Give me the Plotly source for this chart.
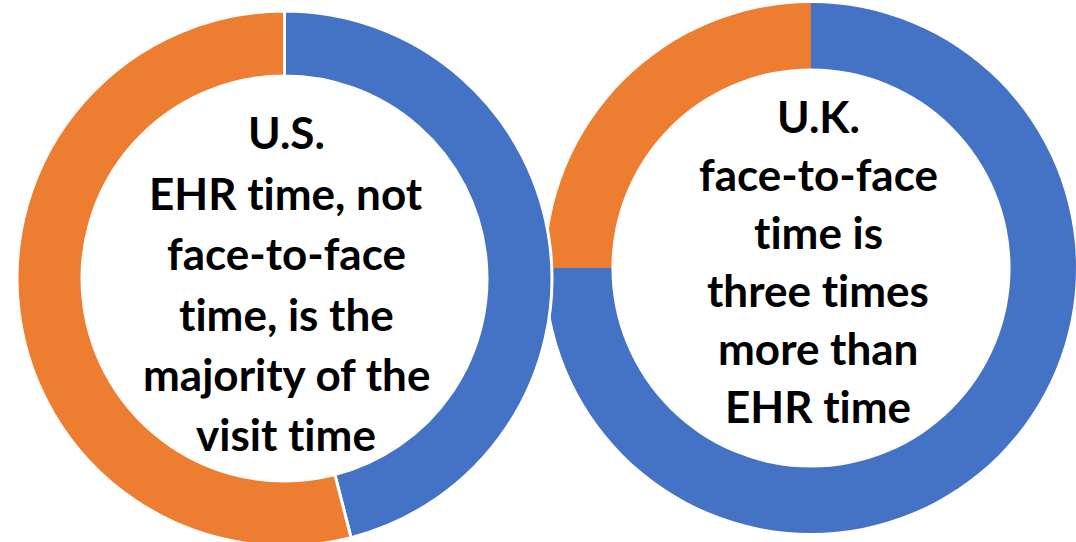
import plotly.graph_objects as go

# Data
labels = ["Face-to-face time", "EHR time"]
us_values = [46, 54]
uk_values = [75, 25]
colors = ["#4472C4", "#ED7D31"]

us_text = ["U.S.", "EHR time, not", "face-to-face", "time, is the", "majority of the", "visit time"]
uk_text = ["U.K.", "face-to-face", "time is", "three times", "more than", "EHR time"]

W, H = 1076, 552
FONT = "Lato"
FS = 44

fig = go.Figure()
# U.K. first so the U.S. ring (with its white outline) sits on top where they touch
fig.add_trace(go.Pie(labels=labels, values=uk_values, hole=0.753, sort=False,
                     direction="clockwise", rotation=0, textinfo="none",
                     marker=dict(colors=colors, line=dict(color="white", width=0)),
                     domain=dict(x=[546 / W, 1076 / W], y=[19 / H, 549 / H])))
fig.add_trace(go.Pie(labels=labels, values=us_values, hole=0.757, sort=False,
                     direction="clockwise", rotation=0, textinfo="none",
                     marker=dict(colors=colors, line=dict(color="white", width=3)),
                     domain=dict(x=[17 / W, 552 / W], y=[6 / H, 541 / H])))


def add_lines(lines, cx, base0, step):
    for i, t in enumerate(lines):
        ypx = base0 + i * step - 0.4 * FS
        t = t.replace("ti", "t\u200ci")  # avoid the Lato "ti" ligature
        fig.add_annotation(text=f"<b>{t}</b>", x=cx / W, y=1 - ypx / H, xref="paper", yref="paper",
                           xanchor="center", yanchor="middle", showarrow=False,
                           font=dict(family=FONT, size=FS, color="black"))


add_lines(us_text, 286, 150, 60.4)
add_lines(uk_text, 818, 134, 58)

fig.update_layout(width=W, height=H, margin=dict(l=0, r=0, t=0, b=0),
                  showlegend=False, paper_bgcolor="white", plot_bgcolor="white")

fig.write_html("out.html", config={"displayModeBar": False},
               post_script="document.body.style.margin='0';document.body.style.overflow='hidden';")
